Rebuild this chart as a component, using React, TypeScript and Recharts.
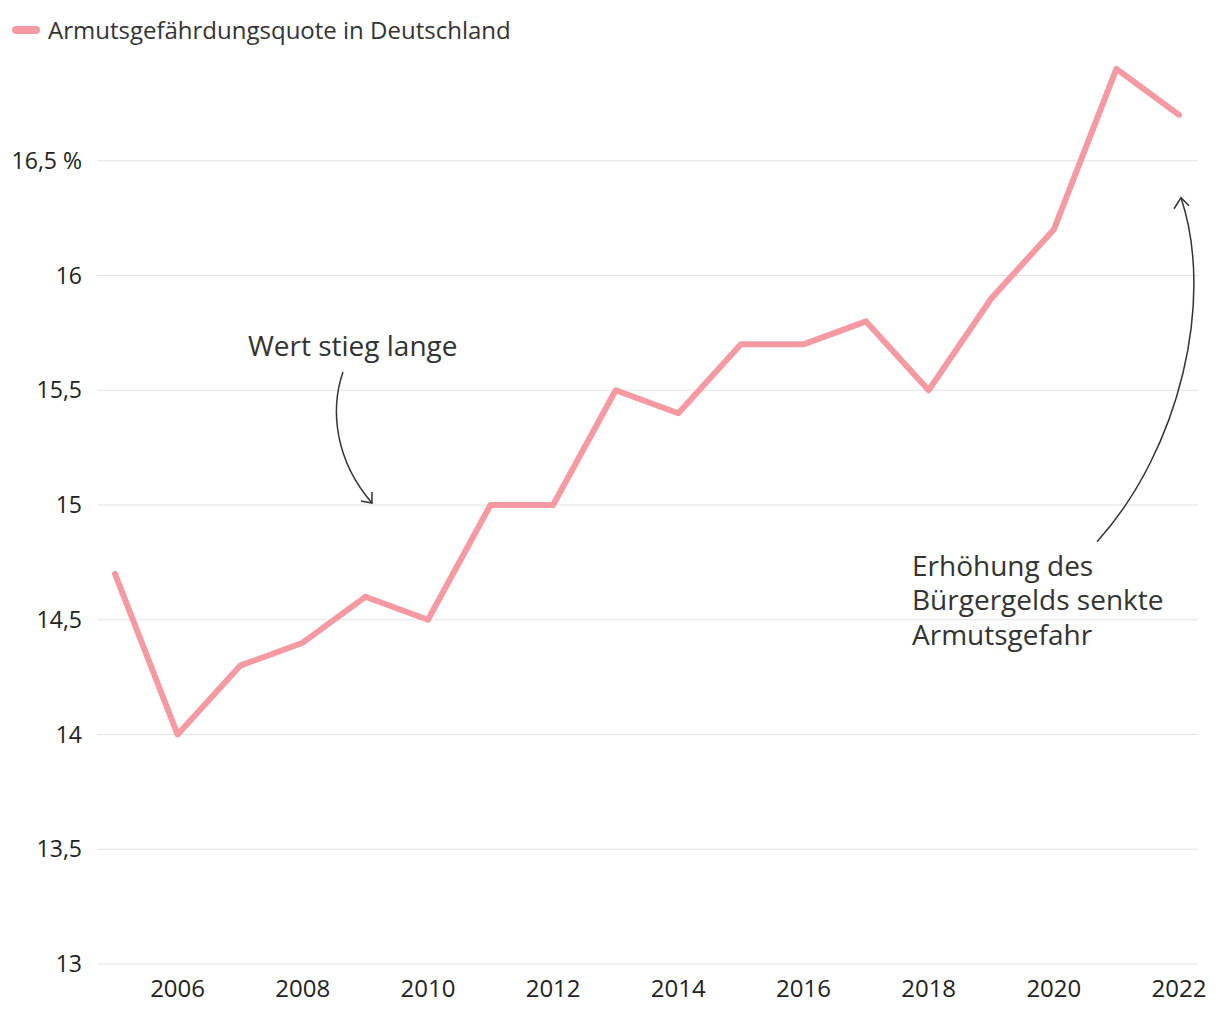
import React from 'react';
import { LineChart, Line, XAxis, YAxis, CartesianGrid, ReferenceDot, Customized } from 'recharts';

const years = [2005, 2006, 2007, 2008, 2009, 2010, 2011, 2012, 2013, 2014, 2015, 2016, 2017, 2018, 2019, 2020, 2021, 2022];
const rates = [14.7, 14.0, 14.3, 14.4, 14.6, 14.5, 15.0, 15.0, 15.5, 15.4, 15.7, 15.7, 15.8, 15.5, 15.9, 16.2, 16.9, 16.7];
const yTicks = [13, 13.5, 14, 14.5, 15, 15.5, 16, 16.5];
const xTicks = [2006, 2008, 2010, 2012, 2014, 2016, 2018, 2020, 2022];
const seriesName = 'Armutsgefährdungsquote in Deutschland';
const note1 = ['Wert stieg lange'];
const note2 = ['Erhöhung des', 'Bürgergelds senkte', 'Armutsgefahr'];

const data = years.map((y, i) => ({ year: y, rate: rates[i] }));

const FONT = '"Open Sans", "Noto Sans", sans-serif';
const LINE_COLOR = '#f59aa3';
const TEXT = '#333333';

const fmtY = (v: number) => (v === 16.5 ? '16,5 %' : String(v).replace('.', ','));

const LegendBox = () => (
  <g>
    <line x1={16} y1={30} x2={36} y2={30} stroke={LINE_COLOR} strokeWidth={8} strokeLinecap="round" />
    <text x={48} y={38.5} fontSize={24} fontFamily={FONT} fill={TEXT}>{seriesName}</text>
  </g>
);

const Note1Shape = (props: any) => {
  const { cx, cy } = props;
  const tx = cx + 6.6;
  const ty = cy - 2;
  return (
    <g>
      <text x={cx - 117.4} y={cy - 149} fontSize={28} fontFamily={FONT} fill={TEXT}>{note1[0]}</text>
      <path
        d={`M${cx - 22.4},${cy - 133} C${cx - 35.4},${cy - 95} ${cx - 30.4},${cy - 45} ${tx},${ty}`}
        fill="none" stroke={TEXT} strokeWidth={1.5}
      />
      <path d={`M${tx - 11},${ty - 2} L${tx},${ty} L${tx},${ty - 11}`} fill="none" stroke={TEXT} strokeWidth={1.5} />
    </g>
  );
};

const Note2Shape = (props: any) => {
  const { cx, cy } = props;
  const tx = cx + 2;
  const ty = cy + 37;
  return (
    <g>
      {note2.map((t, i) => (
        <text key={i} x={cx - 267} y={cy + 415 + i * 34.5} fontSize={28} fontFamily={FONT} fill={TEXT}>{t}</text>
      ))}
      <path
        d={`M${cx - 82},${cy + 381} C${cx + 1},${cy + 289} ${cx + 36},${cy + 139} ${tx},${ty}`}
        fill="none" stroke={TEXT} strokeWidth={1.5}
      />
      <path d={`M${tx - 7},${ty + 11} L${tx},${ty} L${tx + 8},${ty + 8}`} fill="none" stroke={TEXT} strokeWidth={1.5} />
    </g>
  );
};

export default function App() {
  return (
    <div style={{ position: 'absolute', left: 0, top: 0, width: 1220, height: 1020, background: '#fff' }}>
      <LineChart width={1220} height={1020} data={data} margin={{ top: 46, right: 22, bottom: 0, left: 0 }}>
        <CartesianGrid vertical={false} horizontalValues={yTicks} stroke="#e3e3e3" strokeWidth={1.2} />
        <XAxis
          dataKey="year"
          type="number"
          domain={[2005, 2022]}
          ticks={xTicks}
          interval={0}
          padding={{ left: 18, right: 19 }}
          axisLine={false}
          tickLine={false}
          tickSize={0}
          tickMargin={16}
          height={56}
          tick={{ fill: '#222', fontSize: 24, fontFamily: FONT }}
        />
        <YAxis
          type="number"
          domain={[13, 17]}
          ticks={yTicks}
          interval={0}
          width={97}
          axisLine={false}
          tickLine={false}
          tickSize={0}
          tickMargin={15}
          tickFormatter={fmtY}
          tick={{ fill: '#222', fontSize: 23, fontFamily: FONT }}
        />
        <Line
          type="linear"
          dataKey="rate"
          name={seriesName}
          stroke={LINE_COLOR}
          strokeWidth={6}
          strokeLinecap="round"
          strokeLinejoin="round"
          dot={false}
          activeDot={false}
          isAnimationActive={false}
        />
        <ReferenceDot x={2009} y={15} r={0} shape={Note1Shape} />
        <ReferenceDot x={2022} y={16.5} r={0} shape={Note2Shape} />
        <Customized component={LegendBox} />
      </LineChart>
    </div>
  );
}
